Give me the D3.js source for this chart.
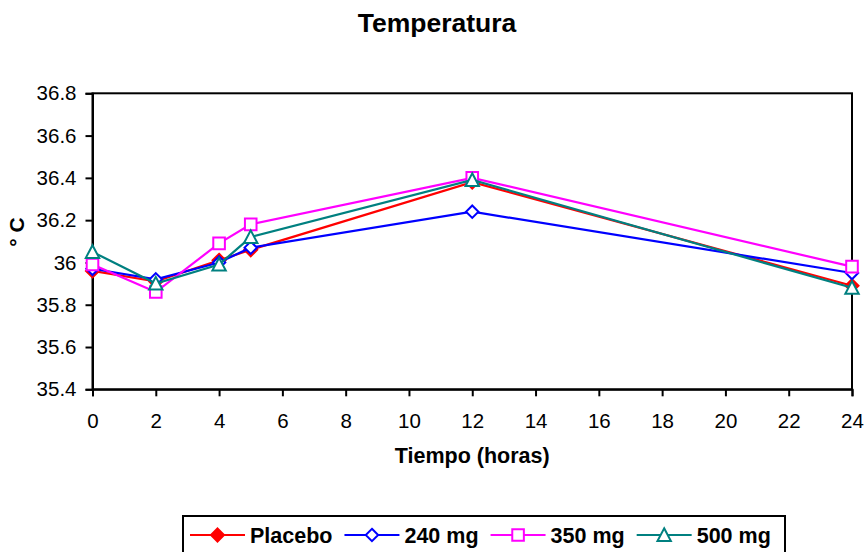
<!DOCTYPE html>
<html>
<head>
<meta charset="utf-8">
<script src="https://cdn.jsdelivr.net/npm/d3@7"></script>
<style>
  html, body { margin: 0; padding: 0; background: #fff; }
  svg { display: block; font-family: "Liberation Sans", Arial, sans-serif; }
</style>
</head>
<body>
<svg id="chart" width="866" height="552"></svg>
<script>
// Time points (hours)
const hours = [0, 2, 4, 5, 12, 24];

// Mean temperature (°C) per group
const placebo = [35.96, 35.91, 36.01, 36.06, 36.38, 35.89];
const mg240   = [35.97, 35.92, 36.00, 36.07, 36.24, 35.95];
const mg350   = [35.99, 35.86, 36.09, 36.18, 36.40, 35.98];
const mg500   = [36.05, 35.90, 35.99, 36.12, 36.39, 35.88];

const seriesNames = ["Placebo", "240 mg", "350 mg", "500 mg"];
const xTicks = [0, 2, 4, 6, 8, 10, 12, 14, 16, 18, 20, 22, 24];
const yTicks = [35.4, 35.6, 35.8, 36, 36.2, 36.4, 36.6, 36.8];

// Custom marker shapes
const diamond = { draw(ctx, s) { ctx.moveTo(0, -s); ctx.lineTo(s, 0); ctx.lineTo(0, s); ctx.lineTo(-s, 0); ctx.closePath(); } };
const square = { draw(ctx, s) { ctx.rect(-s, -s, 2 * s, 2 * s); } };
const triangle = { draw(ctx, s) { ctx.moveTo(0, -s); ctx.lineTo(s, s * 0.9); ctx.lineTo(-s, s * 0.9); ctx.closePath(); } };

const styles = [
  { color: "#FF0000", shape: diamond, size: 6.5, fill: "#FF0000" },
  { color: "#0000FF", shape: diamond, size: 6.2, fill: "#FFFFFF" },
  { color: "#FF00FF", shape: square, size: 5.8, fill: "#FFFFFF" },
  { color: "#008080", shape: triangle, size: 6.7, fill: "#FFFFFF" }
];

const series = [placebo, mg240, mg350, mg500].map((vals, i) => ({
  name: seriesNames[i],
  points: hours.map((h, j) => ({ x: h, y: vals[j] })),
  style: styles[i]
}));

const svg = d3.select("#chart");
const plot = { left: 92.5, right: 852, top: 93.3, bottom: 389.3 };

const x = d3.scaleLinear().domain([0, 24]).range([plot.left, plot.right]);
const y = d3.scaleLinear().domain([35.4, 36.8]).range([plot.bottom, plot.top]);

// Title
svg.append("text")
  .attr("x", 437).attr("y", 32)
  .attr("text-anchor", "middle")
  .style("font-weight", "bold").style("font-size", "26.5px")
  .text("Temperatura");

// Plot frame (top and right edges)
svg.append("rect")
  .attr("x", plot.left).attr("y", plot.top)
  .attr("width", plot.right - plot.left).attr("height", plot.bottom - plot.top)
  .attr("fill", "none").attr("stroke", "#000").attr("stroke-width", 2);

// Axes
const yAxis = svg.append("g")
  .attr("transform", `translate(${plot.left},0)`)
  .call(d3.axisLeft(y).tickValues(yTicks).tickSize(7).tickPadding(9).tickFormat(d3.format("~g")));
const xAxis = svg.append("g")
  .attr("transform", `translate(0,${plot.bottom})`)
  .call(d3.axisBottom(x).tickValues(xTicks).tickSize(7).tickPadding(17).tickFormat(d3.format("d")));

[xAxis, yAxis].forEach(g => {
  g.selectAll("path.domain").attr("stroke", "#000").attr("stroke-width", 2);
  g.selectAll(".tick line").attr("stroke", "#000").attr("stroke-width", 2);
  g.selectAll(".tick text")
    .attr("fill", "#000")
    .style("font-size", "20.5px")
    .style("font-family", "'Liberation Sans', Arial, sans-serif");
});

// Axis titles
svg.append("text")
  .attr("x", (plot.left + plot.right) / 2).attr("y", 463)
  .attr("text-anchor", "middle")
  .style("font-weight", "bold").style("font-size", "21.5px")
  .text("Tiempo (horas)");

svg.append("text")
  .attr("transform", "translate(24,232) rotate(-90)")
  .attr("text-anchor", "middle")
  .style("font-weight", "bold").style("font-size", "21px")
  .text("° C");

// Lines and markers
const line = d3.line().x(d => x(d.x)).y(d => y(d.y));

const groups = svg.append("g").selectAll("g.series")
  .data(series).join("g").attr("class", "series");

groups.append("path")
  .attr("d", d => line(d.points))
  .attr("fill", "none")
  .attr("stroke", d => d.style.color)
  .attr("stroke-width", 2.2);

groups.each(function (s) {
  d3.select(this).selectAll("path.marker")
    .data(s.points).join("path")
    .attr("class", "marker")
    .attr("transform", d => `translate(${x(d.x)},${y(d.y)})`)
    .attr("d", d3.symbol().type(s.style.shape).size(s.style.size))
    .attr("fill", s.style.fill)
    .attr("stroke", s.style.color)
    .attr("stroke-width", 2);
});

// Legend
const legend = svg.append("g");
legend.append("rect")
  .attr("x", 183).attr("y", 516)
  .attr("width", 602).attr("height", 44)
  .attr("fill", "#fff").attr("stroke", "#000").attr("stroke-width", 2);

let cursor = 190;
const lineLen = 55, legY = 535;
series.forEach(s => {
  const item = legend.append("g");
  item.append("line")
    .attr("x1", cursor).attr("x2", cursor + lineLen)
    .attr("y1", legY).attr("y2", legY)
    .attr("stroke", s.style.color).attr("stroke-width", 2.2);
  item.append("path")
    .attr("transform", `translate(${cursor + lineLen / 2},${legY})`)
    .attr("d", d3.symbol().type(s.style.shape).size(s.style.size))
    .attr("fill", s.style.fill)
    .attr("stroke", s.style.color).attr("stroke-width", 2);
  const t = item.append("text")
    .attr("x", cursor + lineLen + 5).attr("y", 543)
    .style("font-weight", "bold").style("font-size", "21.5px")
    .text(s.name);
  cursor += lineLen + 5 + t.node().getComputedTextLength() + 12;
});
</script>
</body>
</html>
